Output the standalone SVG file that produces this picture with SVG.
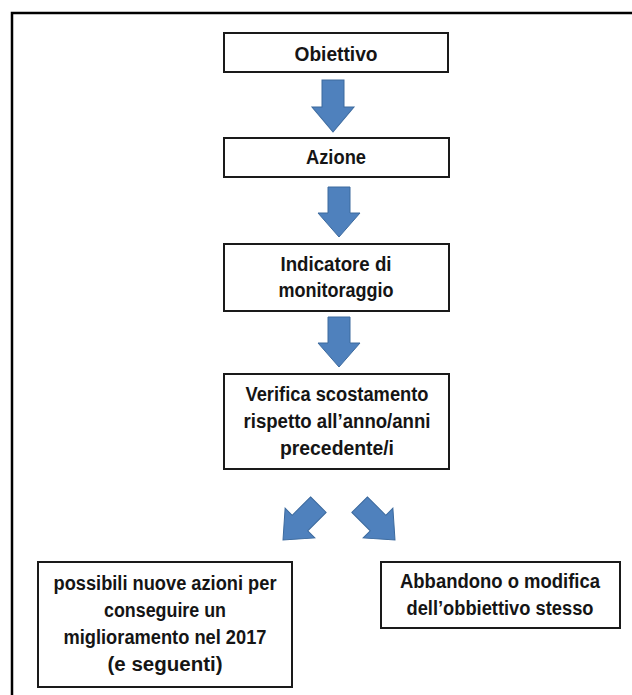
<svg xmlns="http://www.w3.org/2000/svg" width="632" height="695" viewBox="0 0 632 695">
<style>
.box{fill:#fff;stroke:#1a1a1a;stroke-width:2}
.t{font-family:"Liberation Sans",Arial,sans-serif;font-weight:bold;font-size:20px;fill:#151515;text-anchor:middle}
.arr{fill:#4F81BD;stroke:#3C6A9E;stroke-width:1;stroke-linejoin:miter}
</style>
<defs>
<path id="down" d="M-11,-50 L11,-50 L11,-24 L21,-24 L0,0 L-21,-24 L-11,-24 Z"/>
</defs>
<rect width="632" height="695" fill="#fff"/>
<path d="M12,695 L12,13 L632,13" fill="none" stroke="#000" stroke-width="2.5"/>

<g id="connectors">
<use href="#down" class="arr" transform="translate(333,132) scale(1,1.04)"/>
<use href="#down" class="arr" transform="translate(339,237)"/>
<use href="#down" class="arr" transform="translate(339,367)"/>
<use href="#down" class="arr" transform="translate(283,540) rotate(45)"/>
<use href="#down" class="arr" transform="translate(395,540) rotate(-45)"/>
</g>

<g id="obiettivo">
<rect class="box" x="224" y="33" width="224" height="39"/>
<text class="t" x="336" y="61" textLength="83" lengthAdjust="spacingAndGlyphs">Obiettivo</text>
</g>
<g id="azione">
<rect class="box" x="224" y="138" width="225" height="39"/>
<text class="t" x="336" y="164" textLength="60" lengthAdjust="spacingAndGlyphs">Azione</text>
</g>
<g id="indicatore">
<rect class="box" x="224" y="244" width="225" height="67"/>
<text class="t" x="336" y="271" textLength="111" lengthAdjust="spacingAndGlyphs">Indicatore di</text>
<text class="t" x="336" y="297" textLength="115" lengthAdjust="spacingAndGlyphs">monitoraggio</text>
</g>
<g id="verifica">
<rect class="box" x="224" y="374" width="225" height="95"/>
<text class="t" x="337" y="401" textLength="183" lengthAdjust="spacingAndGlyphs">Verifica scostamento</text>
<text class="t" x="337" y="428" textLength="187" lengthAdjust="spacingAndGlyphs">rispetto all’anno/anni</text>
<text class="t" x="337" y="455" textLength="114" lengthAdjust="spacingAndGlyphs">precedente/i</text>
</g>
<g id="nuove-azioni">
<rect class="box" x="38" y="562" width="254" height="125"/>
<text class="t" x="165" y="590" textLength="223" lengthAdjust="spacingAndGlyphs">possibili nuove azioni per</text>
<text class="t" x="165" y="617" textLength="122" lengthAdjust="spacingAndGlyphs">conseguire un</text>
<text class="t" x="165" y="644" textLength="203" lengthAdjust="spacingAndGlyphs">miglioramento nel 2017</text>
<text class="t" x="165" y="671" textLength="115" lengthAdjust="spacingAndGlyphs">(e seguenti)</text>
</g>
<g id="abbandono">
<rect class="box" x="381" y="562" width="239" height="66"/>
<text class="t" x="500" y="588" textLength="200" lengthAdjust="spacingAndGlyphs">Abbandono o modifica</text>
<text class="t" x="500" y="615" textLength="187" lengthAdjust="spacingAndGlyphs">dell’obbiettivo stesso</text>
</g>
</svg>
